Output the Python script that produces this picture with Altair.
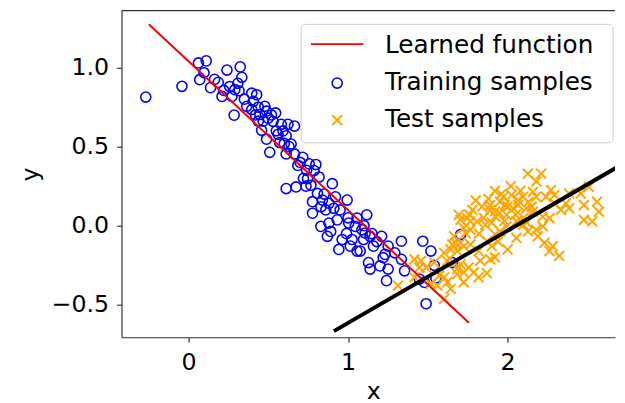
import altair as alt
import pandas as pd

# ---------------- data ----------------
train_x = [-0.268, -0.041, 0.062, 0.111, 0.097, 0.070, 0.138, 0.163, 0.186, 0.241,
           0.324, 0.334, 0.309, 0.258, 0.221, 0.210, 0.286, 0.317, 0.272, 0.396,
           0.427, 0.406, 0.365, 0.396, 0.437, 0.478, 0.489, 0.447, 0.468, 0.437,
           0.458, 0.489, 0.509, 0.520, 0.546, 0.500, 0.581, 0.623, 0.664, 0.592,
           0.612, 0.561, 0.571, 0.643, 0.612, 0.664, 0.716, 0.685, 0.756, 0.798,
           0.787, 0.818, 0.746, 0.767, 0.901, 0.612, 0.674, 0.736, 0.808, 0.777,
           0.839, 0.880, 0.921, 0.994, 0.777, 0.860, 0.911, 0.932, 0.880, 0.891,
           0.870, 1.004, 1.045, 1.087, 1.117, 1.056, 0.963, 1.025, 1.014, 0.942,
           1.097, 1.159, 1.210, 1.138, 1.231, 1.334, 0.829, 1.107, 1.128, 1.138,
           1.200, 1.241, 1.220, 1.251, 1.293, 1.354, 1.334, 1.468, 1.519, 1.447,
           1.478, 1.489, 1.653, 1.705, 1.076, 1.251, 1.540, 1.550, 1.056,
           0.550, 0.630, 0.700, 0.720, 0.850, 0.950, 1.000, 1.100, 1.150, 0.530,
           0.600, 0.740, 0.830, 0.990, 1.180, 0.350, 0.420, 0.290]
train_y = [0.813, 0.881, 1.029, 1.042, 0.967, 0.923, 0.873, 0.925, 0.906, 0.984,
           1.004, 0.938, 0.900, 0.880, 0.855, 0.817, 0.699, 0.853, 0.817, 0.838,
           0.828, 0.786, 0.755, 0.734, 0.749, 0.755, 0.724, 0.703, 0.661, 0.661,
           0.603, 0.547, 0.464, 0.700, 0.713, 0.680, 0.641, 0.641, 0.630, 0.599,
           0.568, 0.578, 0.526, 0.516, 0.454, 0.454, 0.432, 0.381, 0.391, 0.387,
           0.349, 0.308, 0.298, 0.256, 0.266, 0.235, 0.245, 0.250, 0.204, 0.152,
           0.162, 0.142, 0.183, 0.162, 0.079, 0.100, 0.110, 0.037, 0.017, -0.036,
           -0.067, 0.017, -0.004, -0.025, 0.069, 0.048, -0.087, -0.087, -0.129, -0.150,
           -0.087, -0.129, -0.067, -0.067, -0.181, -0.098, -0.004, -0.046, -0.233, -0.274,
           -0.254, -0.347, -0.202, -0.129, -0.171, -0.285, -0.212, -0.098, -0.160, -0.337,
           -0.358, -0.493, -0.233, -0.056, -0.160, -0.274, -0.250, -0.330, -0.160,
           0.600, 0.500, 0.400, 0.300, 0.200, 0.100, 0.050, 0.000, -0.050, 0.660,
           0.520, 0.350, 0.120, -0.050, -0.100, 0.800, 0.700, 0.860]

test_x = [2.127, 2.210, 1.313, 1.447, 1.416, 1.457, 1.489, 1.540, 1.560, 1.571,
          1.519, 1.602, 1.643, 1.622, 1.602, 1.684, 1.725, 1.725, 1.756, 1.787,
          1.818, 1.705, 1.684, 1.664, 1.829, 1.891, 1.818, 1.602, 1.643, 1.622,
          1.684, 1.653, 1.674, 1.664, 1.705, 1.725, 1.767, 1.736, 1.767, 1.725,
          1.705, 1.746, 1.694, 1.767, 1.808, 1.860, 1.870, 1.901, 1.952, 1.922,
          1.993, 1.993, 1.839, 1.891, 1.922, 1.891, 1.922, 1.952, 1.983, 1.973,
          2.024, 2.035, 2.066, 2.066, 2.097, 2.117, 2.158, 2.158, 2.179, 2.241,
          2.272, 2.293, 2.293, 2.334, 2.365, 2.385, 2.385, 2.458, 2.478, 2.509,
          2.560, 2.571, 2.478, 2.530, 2.055, 2.097, 2.055, 2.127, 2.179, 2.220,
          2.262, 2.220, 2.189, 2.231, 2.282, 2.262, 2.323,
          1.850, 1.900, 1.950, 2.000, 2.050, 2.100, 1.880, 1.960, 2.020, 2.080,
          2.130, 1.780, 1.820, 1.940, 2.000, 1.870, 1.920, 2.120, 1.980, 2.150,
          1.800, 1.760, 2.180, 1.920, 1.416]
test_y = [0.329, 0.329, -0.378, -0.264, -0.326, -0.222, -0.264, -0.233, -0.378, -0.316,
          -0.368, -0.462, -0.399, -0.357, -0.326, -0.306, -0.358, -0.295, -0.264, -0.295,
          -0.326, -0.243, -0.274, -0.233, -0.222, -0.212, -0.160, -0.171, -0.150, -0.222,
          -0.160, -0.118, -0.108, -0.067, -0.108, -0.129, -0.118, -0.046, -0.025, -0.014,
          0.037, 0.048, 0.069, 0.027, 0.027, 0.006, -0.098, -0.129, -0.036, -0.056,
          -0.004, 0.069, 0.120, 0.100, 0.058, 0.131, 0.090, 0.152, 0.131, 0.183,
          0.193, 0.110, 0.162, 0.131, 0.183, 0.110, 0.089, 0.214, 0.183, 0.183,
          0.225, 0.193, 0.141, 0.100, 0.141, 0.110, 0.204, 0.204, 0.131, 0.245,
          0.152, 0.089, 0.037, 0.027, 0.027, 0.006, -0.077, -0.036, -0.025, -0.004,
          0.048, 0.058, -0.067, -0.108, -0.129, -0.160, -0.191,
          0.050, 0.020, 0.080, 0.120, 0.070, 0.050, 0.170, 0.200, 0.250, 0.220,
          0.150, 0.100, -0.050, -0.100, -0.150, -0.300, -0.200, 0.020, 0.030, 0.120,
          0.160, 0.070, 0.280, 0.220, -0.212]

fit_x = [-0.249, 1.757]
fit_y = [1.274, -0.613]
ref_x = [0.911, 2.75]
ref_y = [-0.666, 0.407]

x_ticks = [0, 1, 2]
y_ticks = [-0.5, 0.0, 0.5, 1.0]
legend_labels = ["Learned function", "Training samples", "Test samples"]

# ---------------- chart ----------------
W, H = 500, 331
FONT = "DejaVu Sans"
XSHAPE = "M-1,-1L1,1M-1,1L1,-1"
CIRC_SIZE = 105
X_SIZE = 100

xs = alt.Scale(domain=[-0.42, 2.673], nice=False, zero=False)
ys = alt.Scale(domain=[-0.705, 1.36], nice=False, zero=False)

x_enc = alt.X("x:Q", scale=xs,
              axis=alt.Axis(values=x_ticks, format="d", title="x", titleX=255,
                            labelPadding=9, titlePadding=5))
y_enc = alt.Y("y:Q", scale=ys,
              axis=alt.Axis(values=y_ticks, format=".1f", title="y",
                            labelPadding=8, titlePadding=9))

train_df = pd.DataFrame({"x": train_x, "y": train_y})
test_df = pd.DataFrame({"x": test_x, "y": test_y})
fit_df = pd.DataFrame({"x": fit_x, "y": fit_y})
ref_df = pd.DataFrame({"x": ref_x, "y": ref_y})
one = pd.DataFrame({"k": [0]})

train = alt.Chart(train_df).mark_point(
    shape="circle", filled=False, size=CIRC_SIZE, strokeWidth=1.6, color="#0000ff", opacity=1
).encode(x=x_enc, y=y_enc)

test = alt.Chart(test_df).mark_point(
    shape=XSHAPE, filled=False, size=X_SIZE, strokeWidth=2, color="#ffa500", opacity=1
).encode(x=x_enc, y=y_enc)

fit = alt.Chart(fit_df).mark_line(color="#ff0000", strokeWidth=2).encode(x=x_enc, y=y_enc)
ref = alt.Chart(ref_df).mark_line(color="#000000", strokeWidth=4, clip=True).encode(x=x_enc, y=y_enc)

top_spine = alt.Chart(one).mark_rule(color="#333333", strokeWidth=1.2).encode(
    x=alt.value(0), x2=alt.value(W), y=alt.value(0))

# legend (manual, matplotlib-style)
leg_box = alt.Chart(one).mark_rect(
    fill="white", fillOpacity=0.8, stroke="#cccccc", strokeWidth=1, cornerRadius=4
).encode(x=alt.value(182), x2=alt.value(498), y=alt.value(14), y2=alt.value(134))
leg_line = alt.Chart(one).mark_rule(color="#ff0000", strokeWidth=2).encode(
    x=alt.value(192), x2=alt.value(245), y=alt.value(34))
leg_circ = alt.Chart(one).mark_point(
    shape="circle", filled=False, size=CIRC_SIZE, strokeWidth=1.6, color="#0000ff", opacity=1
).encode(x=alt.value(218.5), y=alt.value(73.5))
leg_x = alt.Chart(one).mark_point(
    shape=XSHAPE, filled=False, size=X_SIZE, strokeWidth=2, color="#ffa500", opacity=1
).encode(x=alt.value(218.5), y=alt.value(111))
leg_texts = [
    alt.Chart(one).mark_text(text=lab, align="left", baseline="alphabetic",
                             font=FONT, fontSize=25, color="black").encode(
        x=alt.value(267), y=alt.value(yb))
    for lab, yb in zip(legend_labels, [42.7, 80.3, 118])
]

chart = alt.layer(
    train, test, fit, ref, top_spine, leg_box, leg_line, leg_circ, leg_x, *leg_texts
).properties(
    width=W, height=H,
    padding={"left": 115, "top": 0, "right": 2, "bottom": 64},
    autosize=alt.AutoSizeParams(type="none"),
    background="white",
).configure_view(
    stroke=None
).configure_axis(
    grid=False,
    domainColor="#333333", domainWidth=1.2,
    tickColor="#333333", tickWidth=1.2, tickSize=5,
    labelFont=FONT, labelFontSize=24, labelColor="black",
    titleFont=FONT, titleFontSize=24, titleFontWeight="normal", titleColor="black",
)

chart.save("out.html", embed_options={"renderer": "svg", "actions": False})
